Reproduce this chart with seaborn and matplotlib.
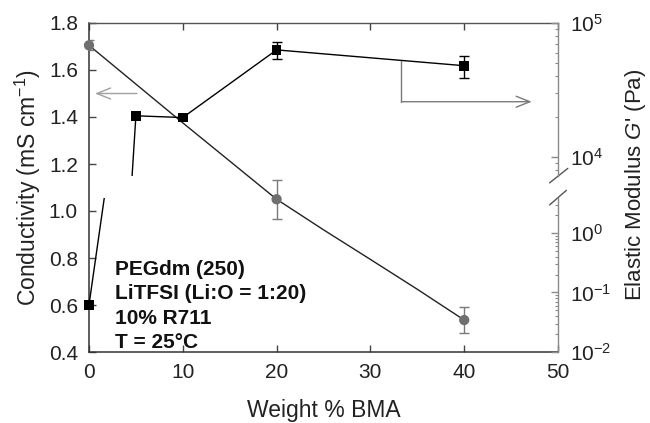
import numpy as np
import pandas as pd
import matplotlib
matplotlib.use("Agg")
import matplotlib.pyplot as plt
from matplotlib.ticker import FixedLocator, LogLocator, LogFormatterMathtext, NullFormatter
import seaborn as sns

# ---------------- data ----------------
bma_cond = [0, 20, 40]                       # wt% BMA for conductivity points
conductivity = [1.705, 1.05, 0.536]          # mS/cm
conductivity_err = [0.021, 0.082, 0.055]

fit_bma = [0, 10, 20, 25, 30, 35, 40]        # guide curve through conductivity
fit_cond = [1.705, 1.375, 1.05, 0.92, 0.794, 0.667, 0.536]

bma_mod = [0, 5, 10, 20, 40]                 # wt% BMA for modulus points
modulus = [0.062, 20300, 19700, 63000, 48000]  # Pa
modulus_err = [0, 0, 0, 9000, 9000]

x_ticks = [0, 10, 20, 30, 40, 50]
cond_ticks = [0.4, 0.6, 0.8, 1.0, 1.2, 1.4, 1.6, 1.8]
upper_mod_ticks = [1e4, 1e5]
lower_mod_ticks = [1e-2, 1e-1, 1e0]

info_lines = ["PEGdm (250)", "LiTFSI (Li:O = 1:20)", "10% R711", "T = 25\u00b0C"]

# ---------------- style ----------------
sns.set_theme(style="ticks")
plt.rcParams['font.family'] = ['Liberation Sans', 'DejaVu Sans']
plt.rcParams['mathtext.fontset'] = 'custom'
plt.rcParams['mathtext.rm'] = 'Liberation Sans'
plt.rcParams['mathtext.it'] = 'Liberation Sans:italic'
plt.rcParams['mathtext.bf'] = 'Liberation Sans:bold'

W, H = 650, 423
fig = plt.figure(figsize=(W / 100, H / 100), dpi=100)
fig.patch.set_facecolor('white')


def box(l, t, r, b):
    return [l / W, 1 - b / H, (r - l) / W, (b - t) / H]


ax = fig.add_axes(box(89, 23, 558, 352))
ax_hi = fig.add_axes(box(89, 23, 558, 176))
ax_lo = fig.add_axes(box(89, 198, 558, 352))

dark = '#222222'
grey_pt = '#6f6f6f'
spine_grey = '#8a8a8a'
tick_fs = 15
label_fs = 16.5

# ---------------- conductivity (left axis) ----------------
ax.set_facecolor('none')
sns.lineplot(x=fit_bma, y=fit_cond, ax=ax, color=dark, linewidth=1.0, sort=False)
ax.errorbar(bma_cond, conductivity, yerr=conductivity_err, fmt='none',
            ecolor='#7a7a7a', elinewidth=1.0, capsize=3.6, capthick=1.0, zorder=3)
sns.scatterplot(x=bma_cond, y=conductivity, ax=ax, color=grey_pt, s=55,
                edgecolor='none', zorder=4)
for c in ax.collections:
    c.set_clip_on(False)

ax.set_xlim(0, 50)
ax.set_ylim(0.4, 1.8)
ax.xaxis.set_major_locator(FixedLocator(x_ticks))
ax.yaxis.set_major_locator(FixedLocator(cond_ticks))
ax.set_xticklabels([str(v) for v in x_ticks])
ax.set_yticklabels(["%.1f" % v for v in cond_ticks])
ax.tick_params(axis='both', which='major', direction='in', length=5, width=1,
               color='#444444', labelsize=tick_fs, labelcolor=dark, pad=8)
ax.tick_params(axis='x', top=True, bottom=True)
ax.tick_params(axis='y', left=True, right=False)
for side in ['left', 'bottom']:
    ax.spines[side].set_color('#333333')
    ax.spines[side].set_linewidth(1.1)
ax.spines['top'].set_color('#555555')
ax.spines['top'].set_linewidth(1.0)
ax.spines['right'].set_visible(False)
ax.set_xlabel('Weight % BMA', fontsize=label_fs, color=dark, labelpad=12)
ax.set_ylabel('Conductivity (mS cm$^{-1}$)', fontsize=label_fs, color=dark, labelpad=4)

# arrows
ax.annotate('', xy=(0.64, 1.5), xytext=(5.1, 1.5),
            arrowprops=dict(arrowstyle='->,head_length=0.55,head_width=0.22',
                            color='#a0a0a0', lw=1.0, mutation_scale=18,
                            shrinkA=0, shrinkB=0))
ax.plot([33.3, 33.3], [1.64, 1.465], color='#7a7a7a', lw=1.0)
ax.annotate('', xy=(47.2, 1.465), xytext=(33.3, 1.465),
            arrowprops=dict(arrowstyle='->,head_length=0.55,head_width=0.22',
                            color='#7a7a7a', lw=1.0, mutation_scale=18,
                            shrinkA=0, shrinkB=0))

# info text
base_px = [275, 299.4, 323.7, 348]
for line, px in zip(info_lines, base_px):
    ax.text(2.77, 1.8 - (px - 23) / 235.0, line, fontsize=15, fontweight='bold',
            color='#111111', va='baseline', ha='left')

# ---------------- modulus (broken right axis) ----------------
mod_df = pd.DataFrame({'bma': bma_mod, 'G': modulus, 'err': modulus_err})
lims = {ax_hi: (7215, 1e5), ax_lo: (0.01, 3.87)}
for a, (lo, hi) in lims.items():
    a.patch.set_visible(False)
    a.set_yscale('log')
    sns.lineplot(data=mod_df, x='bma', y='G', ax=a, color='black', linewidth=1.0,
                 sort=False)
    sub = mod_df[(mod_df['G'] >= lo) & (mod_df['G'] <= hi)]
    e = sub[sub['err'] > 0]
    if len(e):
        a.errorbar(e['bma'], e['G'], yerr=e['err'], fmt='none', ecolor='black',
                   elinewidth=1.0, capsize=3.6, capthick=1.0, zorder=3)
    if len(sub):
        sns.scatterplot(data=sub, x='bma', y='G', ax=a, marker='s', color='black',
                        s=48, edgecolor='none', zorder=4)
    for c in a.collections:
        c.set_clip_on(False)
    a.set_xlim(0, 50)
    a.set_ylim(lo, hi)
    a.xaxis.set_visible(False)
    a.set_ylabel('')
    a.yaxis.tick_right()
    for side in ['left', 'top', 'bottom']:
        a.spines[side].set_visible(False)
    a.spines['right'].set_color(spine_grey)
    a.spines['right'].set_linewidth(1.0)
    a.yaxis.set_major_formatter(LogFormatterMathtext())
    a.yaxis.set_minor_locator(LogLocator(base=10, subs=np.arange(2, 10)))
    a.yaxis.set_minor_formatter(NullFormatter())
    a.tick_params(axis='y', which='major', direction='in', length=5, width=1,
                  color=spine_grey, labelsize=tick_fs, labelcolor=dark, pad=9,
                  right=True, left=False)
    a.tick_params(axis='y', which='minor', direction='in', length=2.5, width=0.8,
                  color=spine_grey, right=True, left=False)

ax_hi.yaxis.set_major_locator(FixedLocator(upper_mod_ticks))
ax_lo.yaxis.set_major_locator(FixedLocator(lower_mod_ticks))
ax_hi.set_ylim(7215, 1e5)
ax_lo.set_ylim(0.01, 3.87)

# break marks
ax_hi.plot([1 - 0.018, 1 + 0.021], [-0.045, 0.05], transform=ax_hi.transAxes,
           color='#555555', lw=1.0, clip_on=False)
ax_lo.plot([1 - 0.018, 1 + 0.018], [0.955, 1.05], transform=ax_lo.transAxes,
           color='#555555', lw=1.0, clip_on=False)

fig.text(635 / W, 1 - 185 / H, "Elastic Modulus $\\mathit{G}$' (Pa)", rotation=90,
         fontsize=16, color=dark, ha='center', va='center')

fig.savefig('out.png', dpi=100, facecolor='white')
